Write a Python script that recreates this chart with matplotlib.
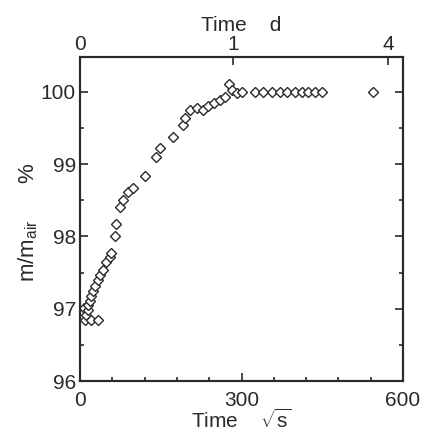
import matplotlib
matplotlib.use("Agg")
import matplotlib.pyplot as plt
from matplotlib.ticker import MultipleLocator

plt.rcParams['font.family'] = ['Liberation Sans', 'DejaVu Sans']
plt.rcParams['mathtext.fontset'] = 'custom'
plt.rcParams['mathtext.rm'] = 'Liberation Sans'
plt.rcParams['mathtext.it'] = 'Liberation Sans'

# sqrt(seconds) on x, mass ratio % on y
time_sqrt_s = [7, 10, 12, 15, 15, 18, 20, 21, 24, 27, 33, 33, 38, 43, 49, 55, 58,
               65, 67, 74, 80, 90, 99, 121, 142, 149, 172, 191, 195, 204, 217,
               228, 238, 248, 260, 269, 277, 282, 291, 301,
               325, 340, 356, 371, 384, 399, 412, 423, 436, 449, 544]
mass_pct = [97.01, 96.85, 96.91, 96.98, 97.05, 97.10, 97.17, 96.85, 97.24, 97.31,
            97.40, 96.85, 97.47, 97.54, 97.65, 97.71, 97.77,
            98.00, 98.17, 98.41, 98.50, 98.62, 98.67, 98.83, 99.10, 99.22, 99.38,
            99.54, 99.64, 99.75, 99.77, 99.75, 99.80, 99.84, 99.88, 99.93,
            100.10, 100.03, 99.98, 100.00,
            100.00, 100.00, 100.00, 100.00, 100.00, 100.00, 100.00, 100.00,
            100.00, 100.00, 100.00]

x_ticks = [0, 300, 600]
y_ticks = [96, 97, 98, 99, 100]
top_tick_pos = [0, 284, 572]
top_tick_labels = ['0', '1', '4']

ink = '#2a2a2a'
fs = 15
fig = plt.figure(figsize=(4.23, 4.36), dpi=100)
ax = fig.add_axes([80/423, 1 - 381/436, 323/423, 324/436])

ax.plot(time_sqrt_s, mass_pct, linestyle='none', marker='D', markersize=5,
        markerfacecolor='white', markeredgecolor=ink, markeredgewidth=1.0)

ax.set_xlim(0, 600)
ax.set_ylim(96, 100.48)
ax.set_xticks(x_ticks)
ax.set_yticks(y_ticks)
ax.xaxis.set_minor_locator(MultipleLocator(60))
ax.yaxis.set_minor_locator(MultipleLocator(0.5))
ax.tick_params(which='both', direction='in', colors=ink, labelsize=fs,
               top=False, right=True, labelright=False)
ax.tick_params(which='major', length=6, width=1.2)
ax.tick_params(which='minor', length=3, width=1.2)
ax.tick_params(axis='x', which='major', pad=7)
ax.tick_params(axis='y', which='major', pad=3)
for s in ax.spines.values():
    s.set_color(ink)
    s.set_linewidth(1.5)

ax.set_xlabel('Time    $\\sqrt{\\mathrm{s}}$', fontsize=fs, color=ink, labelpad=-1)
ax.set_ylabel('m/m$_{\\mathrm{air}}$      %', fontsize=fs + 1, color=ink)
ax.yaxis.set_label_coords(-0.125, 0.49)

top = ax.twiny()
top.set_xlim(0, 600)
top.set_xticks(top_tick_pos)
top.set_xticklabels(top_tick_labels)
top.tick_params(direction='in', length=6, width=1.2, colors=ink, labelsize=fs, pad=2)
top.set_xlabel('Time    d', fontsize=fs, color=ink, labelpad=3)
for s in top.spines.values():
    s.set_color(ink)
    s.set_linewidth(1.5)

fig.savefig('out.png', dpi=100, facecolor='white')
